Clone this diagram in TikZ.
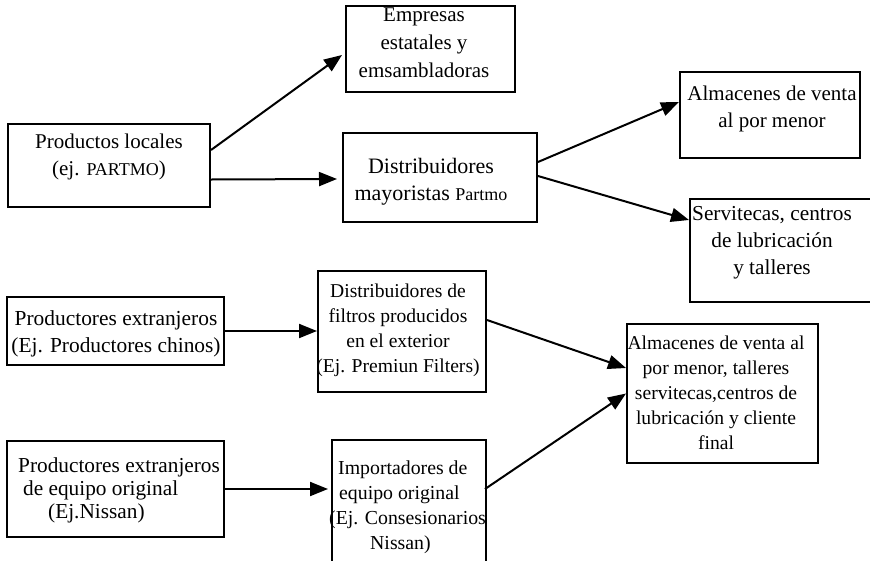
\documentclass[tikz,border=0pt]{standalone}
\usepackage{fontspec}
\setmainfont{Liberation Serif}
\usetikzlibrary{calc,positioning,arrows.meta}

\begin{document}
\begin{tikzpicture}[x=1pt,y=-1pt,
    box_rect/.style={
           rectangle,
           draw=black,
           line width=2pt,
           inner sep=0pt},
    box_text/.style={
           align=center,
           inner sep=0pt,
           font=\fontsize{21}{25}\selectfont},
    flow_arrow/.style={
           -{Triangle[length=18pt,width=14pt]},
           line width=2pt}]

  \useasboundingbox (0,0) rectangle (870,560);

  % cajas
  \path (109,165.5) node(loc) [box_rect,minimum width=202,minimum height=83] {}
  (430.5,49) node(emp) [box_rect,minimum width=169,minimum height=86] {}
  (440,177.5) node(may) [box_rect,minimum width=194,minimum height=89] {}
  (770,115) node(alm) [box_rect,minimum width=180,minimum height=86] {}
  (785,250.5) node(ser) [box_rect,minimum width=190,minimum height=103] {}
  (115.5,331) node(chi) [box_rect,minimum width=217,minimum height=68] {}
  (402,331.5) node(fil) [box_rect,minimum width=168,minimum height=121] {}
  (722.5,393.5) node(fin) [box_rect,minimum width=191,minimum height=139] {}
  (115.5,489) node(equ) [box_rect,minimum width=217,minimum height=96] {}
  (409,507.5) node(imp) [box_rect,minimum width=154,minimum height=135] {};

  % textos
  \path (109,156.5) node(loc_t) [box_text,font=\fontsize{21}{27}\selectfont]
     {Productos locales\\(ej. {\fontsize{18}{27}\selectfont PARTMO})}
  (424,43) node(emp_t) [box_text,font=\fontsize{21}{28}\selectfont]
     {Empresas\\estatales y\\emsambladoras}
  (431,181.5) node(may_t) [box_text,font=\fontsize{22}{27}\selectfont]
     {Distribuidores\\mayoristas {\fontsize{18}{27}\selectfont Partmo}}
  (772,108.5) node(alm_t) [box_text,font=\fontsize{21}{27}\selectfont]
     {Almacenes de venta\\al por menor}
  (772,243) node(ser_t) [box_text,font=\fontsize{21.3}{27}\selectfont]
     {Servitecas, centros\\de lubricación\\y talleres}
  (116,333.5) node(chi_t) [box_text,font=\fontsize{21.4}{27}\selectfont]
     {Productores extranjeros\\(Ej. Productores chinos)}
  (398,330.5) node(fil_t) [box_text,font=\fontsize{19.6}{25}\selectfont]
     {Distribuidores de\\filtros producidos\\en el exterior\\(Ej. Premiun Filters)}
  (716,393) node(fin_t) [box_text,font=\fontsize{19.6}{25}\selectfont]
     {Almacenes de venta al\\por menor, talleres\\servitecas,centros de\\lubricación y cliente\\final}
  (18,490) node(equ_t) [box_text,align=left,anchor=west,font=\fontsize{21.3}{23}\selectfont]
     {Productores extranjeros\\\hspace*{5pt}de equipo original\\\hspace*{30pt}(Ej.Nissan)}
  (329,507.5) node(imp_t) [box_text,align=left,anchor=west,font=\fontsize{19.8}{25}\selectfont]
     {\hspace*{9pt}Importadores de\\\hspace*{10pt}equipo original\\(Ej. Consesionarios\\\hspace*{41pt}Nissan)};

  % flechas
  \draw[flow_arrow] ($(loc.east)+(0,-15.5)$) -- ($(emp.west)+(-3,6)$);
  \draw[flow_arrow] ($(loc.east)+(0,14)$) -- ($(may.west)+(-5,1.5)$);
  \draw[flow_arrow] ($(may.east)+(0,-15.5)$) -- ($(alm.west)+(0,-13)$);
  \draw[flow_arrow] ($(may.east)+(0,-1.5)$) -- ($(ser.west)+(0,-30.5)$);
  \draw[flow_arrow] (chi.east) -- (chi.east -| fil.west);
  \draw[flow_arrow] (equ.east) -- ($(equ.east -| imp.west)+(-3,0)$);
  \draw[flow_arrow] ($(fil.east)+(0,-11.5)$) -- ($(fin.west)+(0,-25.5)$);
  \draw[flow_arrow] ($(imp.east)+(-2,-18.5)$) -- (fin.west);

\end{tikzpicture}
\end{document}
